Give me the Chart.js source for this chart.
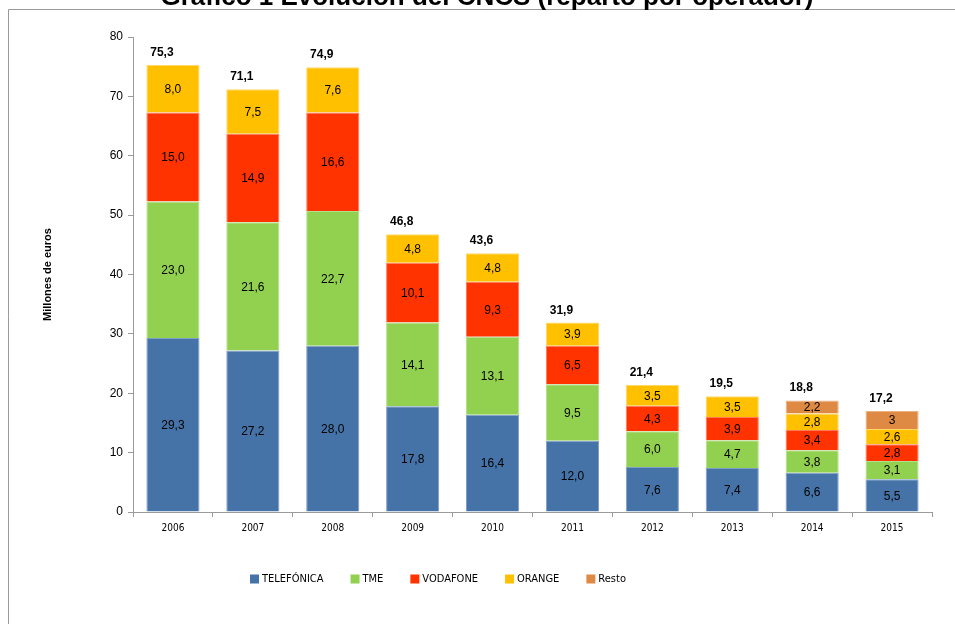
<!DOCTYPE html>
<html>
<head>
<meta charset="utf-8">
<style>
  html, body { margin: 0; padding: 0; background: #fff; }
  #wrap { width: 955px; height: 624px; }
</style>
<script src="https://cdn.jsdelivr.net/npm/chart.js@4/dist/chart.umd.min.js"></script>
</head>
<body>
<div id="wrap"><canvas id="cncs" width="955" height="624"></canvas></div>
<script>
// datos del gráfico (millones de euros)
const years = ['2006', '2007', '2008', '2009', '2010', '2011', '2012', '2013', '2014', '2015'];
const telefonica = [29.3, 27.2, 28.0, 17.8, 16.4, 12.0, 7.6, 7.4, 6.6, 5.5];
const tme        = [23.0, 21.6, 22.7, 14.1, 13.1, 9.5, 6.0, 4.7, 3.8, 3.1];
const vodafone   = [15.0, 14.9, 16.6, 10.1, 9.3, 6.5, 4.3, 3.9, 3.4, 2.8];
const orange     = [8.0, 7.5, 7.6, 4.8, 4.8, 3.9, 3.5, 3.5, 2.8, 2.6];
const resto      = [null, null, null, null, null, null, null, null, 2.2, 3];
const totals     = [75.3, 71.1, 74.9, 46.8, 43.6, 31.9, 21.4, 19.5, 18.8, 17.2];
const yTicks     = [0, 10, 20, 30, 40, 50, 60, 70, 80];

const FONT = "'Liberation Sans', Arial, sans-serif";
const NARROW = "'Liberation Sans Narrow', 'DejaVu Sans Condensed', sans-serif";

// formato con coma decimal
function fmt(v, keepRaw) {
    if (keepRaw) return String(v).replace('.', ',');
    return v.toFixed(1).replace('.', ',');
}

const barLabels = {
    id: 'barLabels',
    afterDatasetsDraw(chart) {
        const ctx = chart.ctx;
        ctx.save();
        ctx.textAlign = 'center';
        ctx.textBaseline = 'middle';
        ctx.fillStyle = '#000';
        ctx.font = '12px ' + FONT;
        chart.data.datasets.forEach((ds, i) => {
            const meta = chart.getDatasetMeta(i);
            meta.data.forEach((bar, j) => {
                const v = ds.data[j];
                if (v == null) return;
                ctx.fillText(fmt(v, ds.label === 'Resto'), bar.x, (bar.y + bar.base) / 2 + 1);
            });
        });
        // totales encima de cada columna
        ctx.font = 'bold 12px ' + FONT;
        ctx.textBaseline = 'alphabetic';
        totals.forEach((t, j) => {
            let top = Infinity, x = 0;
            chart.data.datasets.forEach((ds, i) => {
                const bar = chart.getDatasetMeta(i).data[j];
                if (ds.data[j] != null && bar.y < top) { top = bar.y; x = bar.x; }
            });
            ctx.fillText(fmt(t), x - 11, top - 9);
        });
        ctx.restore();
    }
};

const frameAndLegend = {
    id: 'frameAndLegend',
    afterDraw(chart) {
        const ctx = chart.ctx;
        ctx.save();
        // marco
        ctx.strokeStyle = '#9a9a9a';
        ctx.lineWidth = 1;
        ctx.beginPath();
        ctx.moveTo(8.5, 624);
        ctx.lineTo(8.5, 9.5);
        ctx.lineTo(955, 9.5);
        ctx.stroke();
        // título (cortado arriba)
        ctx.fillStyle = '#000';
        ctx.font = 'bold 26px ' + FONT;
        ctx.textAlign = 'center';
        ctx.textBaseline = 'alphabetic';
        ctx.fillText('Gráfico 1 Evolución del CNCS (reparto por operador)', 487, 5);
        // leyenda
        ctx.font = '11px ' + NARROW;
        ctx.textAlign = 'left';
        ctx.textBaseline = 'middle';
        let x = 250;
        const y = 579;
        chart.data.datasets.forEach(ds => {
            ctx.fillStyle = ds.backgroundColor;
            ctx.fillRect(x, y - 4.5, 9, 9);
            ctx.fillStyle = '#000';
            ctx.fillText(ds.label, x + 12, y);
            x += 12 + ctx.measureText(ds.label).width + 27;
        });
        ctx.restore();
    }
};

function series(label, data, color, edge) {
    return { label, data, backgroundColor: color, borderColor: edge, borderWidth: 1,
             categoryPercentage: 1, barPercentage: 0.665 };
}

new Chart(document.getElementById('cncs'), {
    type: 'bar',
    data: {
        labels: years,
        datasets: [
            series('TELEFÓNICA', telefonica, '#4573A7', '#7f9fc6'),
            series('TME', tme, '#92D050', '#b5e08a'),
            series('VODAFONE', vodafone, '#FF3300', '#ff7a55'),
            series('ORANGE', orange, '#FFC000', '#ffd866'),
            series('Resto', resto, '#DF8A44', '#ebb384')
        ]
    },
    options: {
        responsive: false,
        animation: false,
        layout: { padding: { top: 37, right: 23, bottom: 82, left: 0 } },
        plugins: {
            legend: { display: false },
            title: { display: false },
            tooltip: { enabled: false }
        },
        scales: {
            x: {
                stacked: true,
                grid: { display: true, drawOnChartArea: false, offset: true, tickLength: 5, color: '#9a9a9a' },
                border: { color: '#9a9a9a' },
                ticks: { color: '#000', font: { family: NARROW, size: 10 }, padding: 5, maxRotation: 0 },
                afterFit(scale) { scale.height = 30; }
            },
            y: {
                stacked: true,
                min: 0,
                max: 80,
                afterBuildTicks(scale) { scale.ticks = yTicks.map(v => ({ value: v })); },
                grid: { display: true, drawOnChartArea: false, tickLength: 5, color: '#9a9a9a' },
                border: { color: '#9a9a9a' },
                ticks: { color: '#000', font: { family: FONT, size: 12 }, padding: 5 },
                title: {
                    display: true,
                    text: 'Millones de euros',
                    color: '#000',
                    font: { family: FONT, size: 11, weight: 'bold' },
                    padding: { top: 41, bottom: 0 }
                },
                afterFit(scale) { scale.width = 133; }
            }
        }
    },
    plugins: [barLabels, frameAndLegend]
});
</script>
</body>
</html>
